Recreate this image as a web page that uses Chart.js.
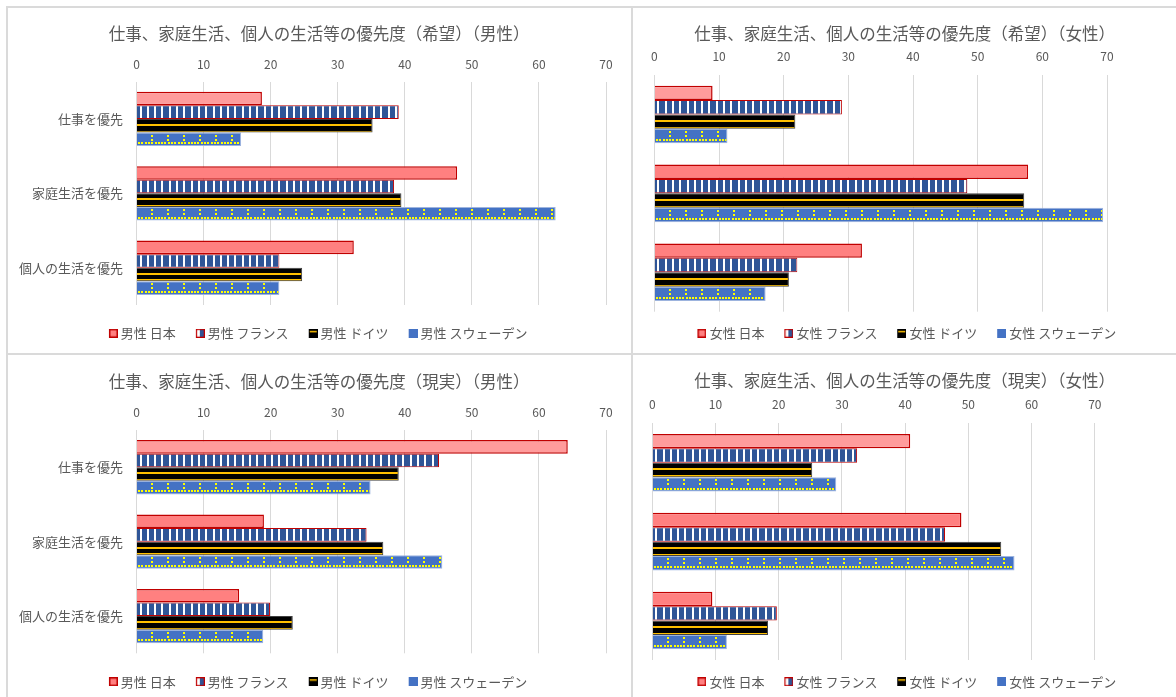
<!DOCTYPE html>
<html lang="ja">
<head>
<meta charset="utf-8">
<title>仕事、家庭生活、個人の生活等の優先度</title>
<script src="https://cdn.jsdelivr.net/npm/chart.js@4.4.1/dist/chart.umd.min.js"></script>
<style>
  html, body { margin: 0; padding: 0; background: #fff; width: 1176px; height: 697px; overflow: hidden; }
  .frame { position: absolute; border-left: 2px solid #DADADA; border-top: 2px solid #DADADA; }
  canvas { position: absolute; }
</style>
</head>
<body>
<div class="frame" style="left:6px; top:6px; width:1200px; height:800px"></div>
<div class="frame" style="left:631px; top:6px; width:600px; height:800px"></div>
<div class="frame" style="left:6px; top:353px; width:1200px; height:400px"></div>
<div class="frame" style="left:631px; top:353px; width:600px; height:400px"></div>

<canvas id="hopeMen" width="622" height="344" style="left:8px; top:9px"></canvas>
<canvas id="hopeWomen" width="543" height="344" style="left:633px; top:9px"></canvas>
<canvas id="realMen" width="622" height="352" style="left:8px; top:355px"></canvas>
<canvas id="realWomen" width="543" height="352" style="left:633px; top:355px"></canvas>

<script>
const categories = ['仕事を優先', '家庭生活を優先', '個人の生活を優先'];
const xTicks = [0, 10, 20, 30, 40, 50, 60, 70];

// 希望（男性）
const hopeMenJapan   = [18.7, 47.8, 32.4];
const hopeMenFrance  = [39.1, 38.4, 21.3];
const hopeMenGermany = [35.2, 39.5, 24.7];
const hopeMenSweden  = [15.6, 62.5, 21.3];

// 希望（女性）
const hopeWomenJapan   = [9.0, 57.8, 32.1];
const hopeWomenFrance  = [29.0, 48.4, 22.1];
const hopeWomenGermany = [21.8, 57.2, 20.8];
const hopeWomenSweden  = [11.3, 69.4, 17.2];

// 現実（男性）
const realMenJapan   = [64.3, 19.0, 15.3];
const realMenFrance  = [45.1, 34.3, 19.9];
const realMenGermany = [39.1, 36.8, 23.3];
const realMenSweden  = [34.9, 45.6, 18.9];

// 現実（女性）
const realWomenJapan   = [40.8, 48.9, 9.5];
const realWomenFrance  = [32.4, 46.3, 19.7];
const realWomenGermany = [25.3, 55.2, 18.3];
const realWomenSweden  = [29.1, 57.3, 11.8];

const FONT = "'Noto Sans CJK JP', 'Noto Sans', sans-serif";
const TEXT = '#595959';
Chart.defaults.font.family = FONT;
Chart.defaults.color = TEXT;

const PINK = '#FF8080', PINK_LIGHT = '#FF9C9C', RED = '#C00000';
const NAVY = '#2F5597', BLACK = '#000000', ORANGE = '#FFC000';
const BLUE = '#4472C4', BLUE_EDGE = '#9DB4DE', YELLOW = '#FFFF00';

// small legend swatches; the square sits at the right end of the canvas
function swatch(kind, w) {
  const c = document.createElement('canvas');
  c.width = Math.round(w); c.height = 9;
  const g = c.getContext('2d');
  const x0 = c.width - 9;
  if (kind === 'jp') {
    g.fillStyle = PINK; g.fillRect(x0, 0, 9, 9);
    g.strokeStyle = RED; g.lineWidth = 1.5; g.strokeRect(x0 + 0.75, 0.75, 7.5, 7.5);
  } else if (kind === 'fr') {
    g.fillStyle = '#fff'; g.fillRect(x0, 0, 9, 9);
    g.fillStyle = NAVY; g.fillRect(x0 + 4, 1, 4, 7);
    g.strokeStyle = RED; g.lineWidth = 1.2; g.strokeRect(x0 + 0.6, 0.6, 7.8, 7.8);
  } else if (kind === 'de') {
    g.fillStyle = BLACK; g.fillRect(x0, 0, 9, 9);
    g.fillStyle = ORANGE; g.fillRect(x0 + 1, 2, 7, 1.5);
  } else {
    g.fillStyle = BLUE; g.fillRect(x0, 0, 9, 9);
  }
  return c;
}

// stripes, lines and dots painted over the bars, snapped to whole pixels
const barDecor = {
  id: 'barDecor',
  afterDatasetsDraw(chart) {
    const ctx = chart.ctx;
    const R = Math.round;
    chart.data.datasets.forEach((ds, i) => {
      if (!ds.decor) return;
      chart.getDatasetMeta(i).data.forEach(bar => {
        const { x, y, base, height } = bar.getProps(['x', 'y', 'base', 'height'], true);
        const l = Math.min(x, base), r = Math.max(x, base);
        const t = y - height / 2, b = y + height / 2;
        ctx.save();
        ctx.beginPath();
        ctx.rect(l, t + 1, r - l - 1, height - 2);
        ctx.clip();
        if (ds.decor === 'stripes') {
          ctx.fillStyle = '#FFFFFF';
          for (let sx = l + 2.5; sx < r - 1; sx += 7.3) ctx.fillRect(R(sx), t, 2, height);
        } else if (ds.decor === 'lines') {
          ctx.fillStyle = ORANGE;
          ctx.fillRect(l, R(t + height * 0.37), r - l, 2);
          ctx.fillRect(l, R(t + height * 0.86), r - l, 2);
        } else if (ds.decor === 'dots') {
          ctx.fillStyle = YELLOW;
          const rowY = R(b - 4);
          for (let sx = l + 1; sx < r - 1; sx += 3.3) ctx.fillRect(R(sx), rowY, 2, 2);
          for (let cx = l + 14; cx < r - 1; cx += 16) {
            ctx.fillRect(R(cx), R(t + 2), 2, 2);
            ctx.fillRect(R(cx), R(t + 6), 2, 2);
          }
        }
        ctx.restore();
      });
    });
  }
};

function drawPanel(id, p) {
  const titleTop = p.titleY - p.top - 9.9;
  const axisH = p.areaTop - p.titleY - 9.9;
  const tickPad = p.areaTop - p.tickY - 7.2;
  const legendPad = p.legendY - p.areaBottom - 6.5;
  const legendH = 13 + legendPad + 10;
  const padBottom = p.bottom - p.areaBottom - legendH;
  const boxW = 25.5 - legendPad;
  const iconW = boxW + 7;

  new Chart(document.getElementById(id), {
    type: 'bar',
    data: {
      labels: categories,
      datasets: [
        { label: p.who + ' 日本', data: p.series[0], decor: null,
          backgroundColor: [PINK_LIGHT, PINK, PINK], borderColor: RED, borderWidth: 1.5,
          pointStyle: swatch('jp', iconW) },
        { label: p.who + ' フランス', data: p.series[1], decor: 'stripes',
          backgroundColor: NAVY, borderColor: RED, borderWidth: 1,
          pointStyle: swatch('fr', iconW) },
        { label: p.who + ' ドイツ', data: p.series[2], decor: 'lines',
          backgroundColor: BLACK, borderColor: '#404040', borderWidth: 1,
          pointStyle: swatch('de', iconW) },
        { label: p.who + ' スウェーデン', data: p.series[3], decor: 'dots',
          backgroundColor: BLUE, borderColor: BLUE_EDGE, borderWidth: 1,
          pointStyle: swatch('se', iconW) }
      ]
    },
    options: {
      indexAxis: 'y',
      responsive: false,
      animation: false,
      categoryPercentage: 0.73,
      barPercentage: 1,
      layout: { padding: { left: 0, right: 0, top: 0, bottom: padBottom } },
      scales: {
        x: {
          position: 'top',
          min: xTicks[0],
          max: xTicks[xTicks.length - 1],
          afterBuildTicks: s => { s.ticks = xTicks.map(v => ({ value: v })); },
          afterFit: s => { s.height = axisH; },
          ticks: { padding: tickPad, color: TEXT, font: { size: 12 }, maxRotation: 0, autoSkip: false },
          grid: { color: '#D9D9D9', lineWidth: 1, drawTicks: false },
          border: { display: false }
        },
        y: {
          afterFit: s => { s.width = p.leftW; },
          ticks: { display: p.showCats, padding: 13.5, color: TEXT, font: { size: 13 } },
          grid: { display: false, drawTicks: false },
          border: { display: false }
        },
        // empty right-hand column that keeps the plot off the panel edge
        yRight: {
          type: 'category',
          position: 'right',
          afterFit: s => { s.width = p.rightW; },
          ticks: { display: false },
          grid: { display: false, drawTicks: false },
          border: { display: false }
        }
      },
      plugins: {
        title: {
          display: true,
          text: p.title,
          color: TEXT,
          font: { size: 16.5, weight: 'normal' },
          padding: { top: titleTop, bottom: 0 }
        },
        legend: {
          position: 'bottom',
          labels: {
            usePointStyle: true,
            pointStyleWidth: boxW,
            boxHeight: 9,
            padding: legendPad,
            color: TEXT,
            font: { size: 13 }
          }
        },
        tooltip: { enabled: false }
      }
    },
    plugins: [barDecor]
  });
}

drawPanel('hopeMen', {
  title: '仕事、家庭生活、個人の生活等の優先度（希望）（男性）', who: '男性',
  series: [hopeMenJapan, hopeMenFrance, hopeMenGermany, hopeMenSweden],
  top: 9, bottom: 353, titleY: 33.3, tickY: 64.3, areaTop: 81.7, areaBottom: 305, legendY: 333.3,
  showCats: true, leftW: 128.5, rightW: 24
});

drawPanel('hopeWomen', {
  title: '仕事、家庭生活、個人の生活等の優先度（希望）（女性）', who: '女性',
  series: [hopeWomenJapan, hopeWomenFrance, hopeWomenGermany, hopeWomenSweden],
  top: 9, bottom: 353, titleY: 33.3, tickY: 56.7, areaTop: 75, areaBottom: 311.7, legendY: 333.3,
  showCats: false, leftW: 21.4, rightW: 69
});

drawPanel('realMen', {
  title: '仕事、家庭生活、個人の生活等の優先度（現実）（男性）', who: '男性',
  series: [realMenJapan, realMenFrance, realMenGermany, realMenSweden],
  top: 355, bottom: 707, titleY: 381.7, tickY: 412.7, areaTop: 430, areaBottom: 653.3, legendY: 681.7,
  showCats: true, leftW: 128.5, rightW: 24
});

drawPanel('realWomen', {
  title: '仕事、家庭生活、個人の生活等の優先度（現実）（女性）', who: '女性',
  series: [realWomenJapan, realWomenFrance, realWomenGermany, realWomenSweden],
  top: 355, bottom: 707, titleY: 381, tickY: 404.3, areaTop: 423.3, areaBottom: 660, legendY: 681.7,
  showCats: false, leftW: 19.3, rightW: 81.2
});
</script>
</body>
</html>
